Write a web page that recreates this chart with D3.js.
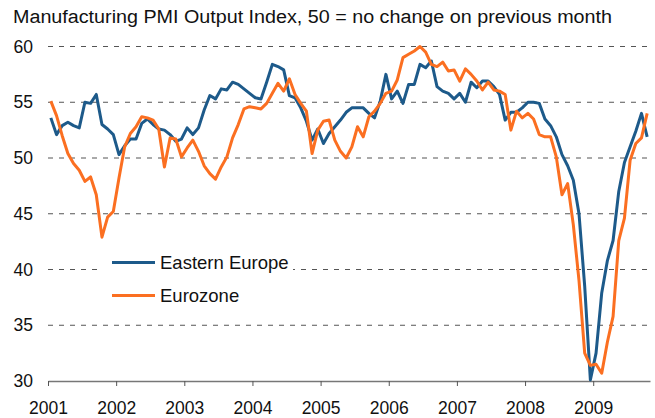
<!DOCTYPE html>
<html lang="en">
<head>
<meta charset="utf-8">
<title>Manufacturing PMI Output Index</title>
<script src="https://d3js.org/d3.v7.min.js"></script>
<style>
  body { margin: 0; background: #fff; }
  text { font-family: "Liberation Sans", Arial, sans-serif; fill: #111; }
</style>
</head>
<body>
<div id="chart"></div>
<script>
// monthly readings, Jan 2001 - Oct 2009
var years = [2001, 2002, 2003, 2004, 2005, 2006, 2007, 2008, 2009];
var yTicks = [30, 35, 40, 45, 50, 55, 60];

var easternEurope = [
  53.6, 52.1, 52.9, 53.2, 52.9, 52.7, 55.0, 54.9, 55.7, 53.0, 52.6, 52.1,
  50.3, 51.1, 51.7, 51.7, 53.1, 53.5, 53.0, 52.6, 52.5, 52.1, 51.5, 51.7,
  52.7, 52.1, 52.7, 54.3, 55.6, 55.3, 56.2, 56.1, 56.8, 56.6, 56.2, 55.8,
  55.4, 55.3, 56.8, 58.4, 58.2, 57.9, 55.6, 55.4, 54.5, 53.3, 51.6, 52.6,
  51.3, 52.2, 52.8, 53.4, 54.1, 54.5, 54.5, 54.5, 54.0, 53.6, 55.1, 57.5,
  55.3, 56.0, 54.9, 56.6, 56.6, 58.4, 58.1, 58.7, 56.4, 56.0, 55.8, 55.3,
  55.8, 55.0, 56.8, 56.3, 56.9, 56.9, 56.4, 55.7, 53.4, 54.1, 54.1, 54.5,
  55.0, 55.0, 54.9, 53.5, 52.9, 51.9, 50.3, 49.3, 48.0, 45.0, 38.5, 30.1,
  32.5, 37.9, 40.8, 42.6, 47.0, 49.6, 51.0, 52.4, 54.0, 51.9
];

var eurozone = [
  55.1, 53.8, 52.0, 50.4, 49.5, 48.9, 47.9, 48.3, 46.7, 42.9, 44.7, 45.2,
  48.2, 51.0, 52.2, 52.8, 53.7, 53.6, 53.4, 52.6, 49.2, 51.8, 51.7, 50.1,
  50.9, 51.6, 50.6, 49.3, 48.6, 48.1, 49.2, 50.1, 51.8, 53.0, 54.4, 54.6,
  54.5, 54.4, 54.9, 55.8, 56.7, 56.0, 57.1, 55.7, 54.9, 54.2, 50.4, 52.5,
  53.3, 53.4, 51.6, 50.6, 50.0, 51.0, 52.8, 51.9, 53.7, 54.2, 54.9, 55.8,
  56.0, 57.0, 59.0, 59.3, 59.6, 60.0, 59.5, 58.4, 58.2, 58.6, 57.8, 57.9,
  56.9, 58.0, 57.5, 56.9, 56.1, 56.8, 56.1, 56.0, 55.7, 52.5, 54.2, 53.6,
  54.0, 53.5, 52.1, 51.9, 51.9, 50.1, 46.7, 47.7, 44.0, 39.0, 32.5, 31.4,
  31.5, 30.7, 33.5, 35.8, 42.6, 44.6, 49.8, 51.3, 51.8, 54.0
];

var seriesNames = ["Eastern Europe", "Eurozone"];
var seriesColours = ["#1d5a8a", "#fb6f21"];

var width = 655, height = 418;
var plotLeft = 48, plotRight = 650, plotTop = 46.5, plotBottom = 381;

var months = d3.range(easternEurope.length);

var xScale = d3.scaleBand()
    .domain(months)
    .range([plotLeft, plotRight]);

var yScale = d3.scaleLinear()
    .domain([30, 60])
    .range([plotBottom, plotTop]);

var svg = d3.select("#chart").append("svg")
    .attr("width", width)
    .attr("height", height);

// title
svg.append("text")
    .attr("x", 13)
    .attr("y", 22.5)
    .attr("textLength", 599)
    .attr("lengthAdjust", "spacingAndGlyphs")
    .style("font-size", "18px")
    .text("Manufacturing PMI Output Index, 50 = no change on previous month");

// dashed gridlines
svg.append("g")
    .selectAll("line")
    .data(yTicks.filter(function(d){ return d > 30; }))
    .enter().append("line")
        .attr("x1", plotLeft)
        .attr("x2", plotRight)
        .attr("y1", function(d){ return yScale(d); })
        .attr("y2", function(d){ return yScale(d); })
        .attr("stroke", "#555")
        .attr("stroke-width", 1)
        .attr("stroke-dasharray", "5,6");

// y labels (no axis line)
var yAxis = d3.axisLeft(yScale)
    .tickValues(yTicks)
    .tickSize(0)
    .tickPadding(15);

svg.append("g")
    .attr("transform", "translate(" + plotLeft + ",0)")
    .call(yAxis)
    .call(function(g){ g.select(".domain").remove(); })
    .selectAll("text")
        .style("font-size", "17.5px")
        .attr("fill", "#111");

// x axis with ticks at year boundaries
var yearScale = d3.scaleLinear()
    .domain([2001, 2001 + easternEurope.length / 12])
    .range([plotLeft, plotRight]);

var xAxis = d3.axisBottom(yearScale)
    .tickValues(years)
    .tickFormat(d3.format("d"))
    .tickSizeInner(5)
    .tickSizeOuter(0)
    .tickPadding(16);

var xg = svg.append("g")
    .attr("transform", "translate(0," + plotBottom + ")")
    .call(xAxis);
xg.select(".domain").attr("stroke", "#777").attr("stroke-width", 1.5);
xg.selectAll(".tick line").attr("stroke", "#555");
xg.selectAll("text").style("font-size", "17.5px").attr("fill", "#111");

// lines
var line = d3.line()
    .x(function(d, i){ return xScale(i) + xScale.bandwidth() / 2; })
    .y(function(d){ return yScale(d); });

[easternEurope, eurozone].forEach(function(s, k){
    svg.append("path")
        .datum(s)
        .attr("fill", "none")
        .attr("stroke", seriesColours[k])
        .attr("stroke-width", 3)
        .attr("stroke-linejoin", "round")
        .attr("d", line);
});

// legend
var legend = svg.append("g");
legend.append("rect")
    .attr("x", 103)
    .attr("y", 250)
    .attr("width", 190)
    .attr("height", 58)
    .attr("fill", "#fff");

seriesNames.forEach(function(name, k){
    var ly = 262.5 + k * 33;
    legend.append("line")
        .attr("x1", 112)
        .attr("x2", 155)
        .attr("y1", ly)
        .attr("y2", ly)
        .attr("stroke", seriesColours[k])
        .attr("stroke-width", 3);
    legend.append("text")
        .attr("x", 160)
        .attr("y", ly)
        .attr("dy", "0.35em")
        .style("font-size", "18.5px")
        .text(name);
});
</script>
</body>
</html>
